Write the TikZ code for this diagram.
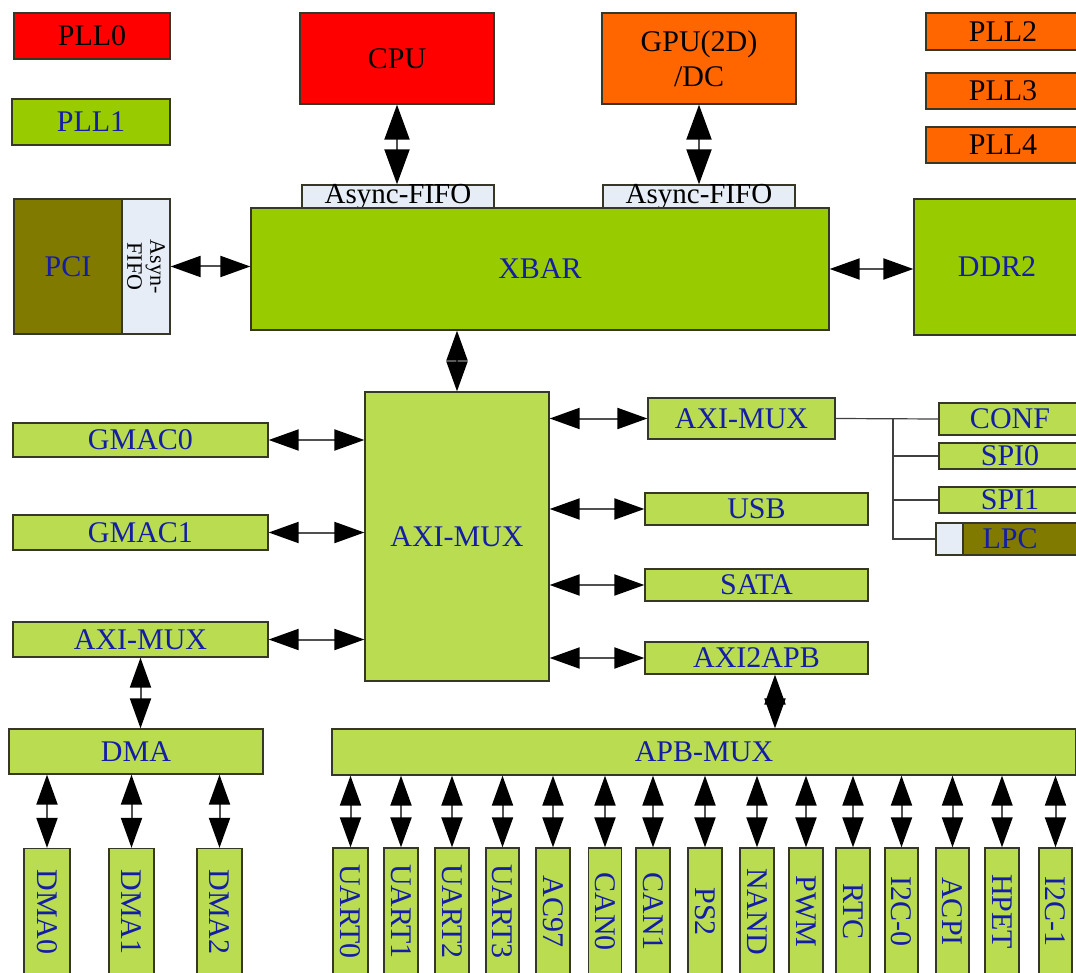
\documentclass[tikz,border=0pt]{standalone}
\usepackage{fontspec}
\setmainfont{Liberation Serif}
\usetikzlibrary{arrows.meta}
\definecolor{cred}{RGB}{255,0,0}
\definecolor{corange}{RGB}{255,102,0}
\definecolor{cgreen}{RGB}{153,204,0}
\definecolor{clgreen}{RGB}{185,220,80}
\definecolor{colive}{RGB}{128,122,0}
\definecolor{cfifo}{RGB}{230,237,247}
\definecolor{ctxt}{RGB}{20,30,165}
\definecolor{cedge}{RGB}{55,55,40}
\definecolor{cshaft}{RGB}{80,80,80}
\begin{document}
\begin{tikzpicture}[x=1pt,y=-1pt,
  box/.style={draw=cedge, line width=1.3pt, inner sep=0pt,
    font=\fontsize{30}{35}\selectfont, text=ctxt},
  gbox/.style={box, fill=cgreen},
  lbox/.style={box, fill=clgreen},
  rbox/.style={box, fill=cred, text=black},
  obox/.style={box, fill=corange, text=black},
  olbox/.style={box, fill=colive},
  fifo/.style={box, fill=cfifo, text=black, font=\fontsize{29}{30}\selectfont,
    text height=14pt, text depth=0pt},
  pbox/.style={lbox, rotate=-90, minimum width=127},
  bi/.style={line width=2pt, draw=cshaft,
    {Triangle[length=30pt,width=21pt,color=black]}-{Triangle[length=30pt,width=21pt,color=black]}},
  bibig/.style={line width=2pt, draw=cshaft,
    {Triangle[length=35pt,width=25pt,color=black]}-{Triangle[length=35pt,width=25pt,color=black]}},
  wire/.style={line width=1.2pt, draw=black!75}]
\useasboundingbox (0,0) rectangle (1076,973);
\clip (0,0) rectangle (1076,973);

% top row
\node[rbox, minimum width=156, minimum height=46] (pll0) at (92,36) {PLL0};
\node[gbox, minimum width=158, minimum height=46] (pll1) at (91,122) {PLL1};
\node[rbox, minimum width=194, minimum height=91] (cpu) at (397,58.5) {CPU};
\node[obox, minimum width=194, minimum height=91, align=center] (gpu) at (699,58.5) {GPU(2D)\\/DC};
\node[obox, minimum width=154, minimum height=37] (pll2) at (1003,31.5) {PLL2};
\node[obox, minimum width=154, minimum height=36] (pll3) at (1003,91) {PLL3};
\node[obox, minimum width=154, minimum height=36] (pll4) at (1003,145) {PLL4};

% fifos and xbar
\node[fifo, minimum width=192, minimum height=23] (fifo1) at (398,196.5) {Async-FIFO};
\node[fifo, minimum width=192, minimum height=23] (fifo2) at (699,196.5) {Async-FIFO};
\node[gbox, minimum width=578, minimum height=122] (xbar) at (540,269) {XBAR};
\node[olbox, minimum width=108, minimum height=135] (pci) at (68,266.5) {PCI};
\node[box, fill=cfifo, text=black, rotate=-90, minimum width=135, minimum height=48,
  align=center, font=\fontsize{22}{23}\selectfont] (pcififo) at (146,266.5) {Asyn-\\FIFO};
\node[gbox, minimum width=166, minimum height=136] (ddr) at (997,267) {DDR2};

% AXI level
\node[lbox, minimum width=184, minimum height=289] (axic) at (457,536.5) {AXI-MUX};
\node[lbox, minimum width=255, minimum height=34] (gmac0) at (140.5,440) {GMAC0};
\node[lbox, minimum width=255, minimum height=35] (gmac1) at (140.5,532.5) {GMAC1};
\node[lbox, minimum width=255, minimum height=35] (axil) at (140.5,639.5) {AXI-MUX};
\node[lbox, minimum width=187, minimum height=41] (axir) at (741.5,418.5) {AXI-MUX};
\node[lbox, minimum width=223, minimum height=32] (usb) at (756.5,509) {USB};
\node[lbox, minimum width=223, minimum height=32] (sata) at (756.5,585) {SATA};
\node[lbox, minimum width=223, minimum height=32] (axi2apb) at (756.5,658) {AXI2APB};
\node[lbox, minimum width=142, minimum height=32] (conf) at (1010,419) {CONF};
\node[lbox, minimum width=142, minimum height=26] (spi0) at (1010,456) {SPI0};
\node[lbox, minimum width=142, minimum height=26] (spi1) at (1010,500) {SPI1};
\node[box, fill=cfifo, minimum width=27, minimum height=32] (lpcl) at (949.5,539) {};
\node[olbox, minimum width=127, minimum height=32, label={[font=\fontsize{30}{35}\selectfont, text=ctxt, xshift=-16.5pt]center:LPC}] (lpc) at (1026.5,539) {};

% DMA / APB
\node[lbox, minimum width=254, minimum height=45] (dma) at (136,751.5) {DMA};
\node[pbox, minimum height=46] (d0) at (47,912) {DMA0};
\node[pbox, minimum height=45] (d1) at (131.5,912) {DMA1};
\node[pbox, minimum height=45] (d2) at (219.5,912) {DMA2};
\node[lbox, minimum width=744, minimum height=46] (apb) at (704,752) {APB-MUX};

\foreach \n/\c/\w/\lab in {
  u0/350.5/35/UART0, u1/401/34/UART1, u2/452/34/UART2, u3/502.5/33/UART3,
  ac97/553/34/AC97, can0/605/33/CAN0, can1/653/34/CAN1, ps2/705/34/PS2,
  nand/757/34/NAND, pwm/806/34/PWM, rtc/853/34/RTC, i2c0/901.5/33/I2C-0,
  acpi/952.5/33/ACPI, hpet/1002/34/HPET, i2c1/1055.5/33/I2C-1}{
  \node[pbox, minimum height=\w] (\n) at (\c,911.5) {\lab};
  \draw[bi] (apb.south -| \n.west) -- (\n.west);
}

% connectors
\draw[bibig] (cpu.south) -- (fifo1.north -| cpu.south);
\draw[bibig] (gpu.south) -- (fifo2.north -| gpu.south);
\draw[bi] (pcififo.north) -- (xbar.west |- pcififo.north);
\draw[bi] (xbar.east) -- (ddr.west |- xbar.east);
\draw[bi] (xbar.south -| axic.north) -- (axic.north);
\draw[bi] (gmac0.east) -- (axic.west |- gmac0.east);
\draw[bi] (gmac1.east) -- (axic.west |- gmac1.east);
\draw[bi] (axil.east) -- (axic.west |- axil.east);
\draw[bi] (axic.east |- axir.west) -- (axir.west);
\draw[bi] (axic.east |- usb.west) -- (usb.west);
\draw[bi] (axic.east |- sata.west) -- (sata.west);
\draw[bi] (axic.east |- axi2apb.west) -- (axi2apb.west);
\coordinate (ab) at ([xshift=18.5pt]axi2apb.south);
\draw[bi] (ab) -- (ab |- apb.north);
\draw[bi] (axil.south) -- (axil.south |- dma.north);
\foreach \n in {d0,d1,d2}{
  \draw[bi] (dma.south -| \n.west) -- (\n.west);
}

% configuration bus
\coordinate (br) at (893,419);
\draw[wire] (axir.east) -- (conf.west);
\draw[wire] (br) |- (lpcl.west);
\draw[wire] (br |- spi0.west) -- (spi0.west);
\draw[wire] (br |- spi1.west) -- (spi1.west);
\end{tikzpicture}
\end{document}
